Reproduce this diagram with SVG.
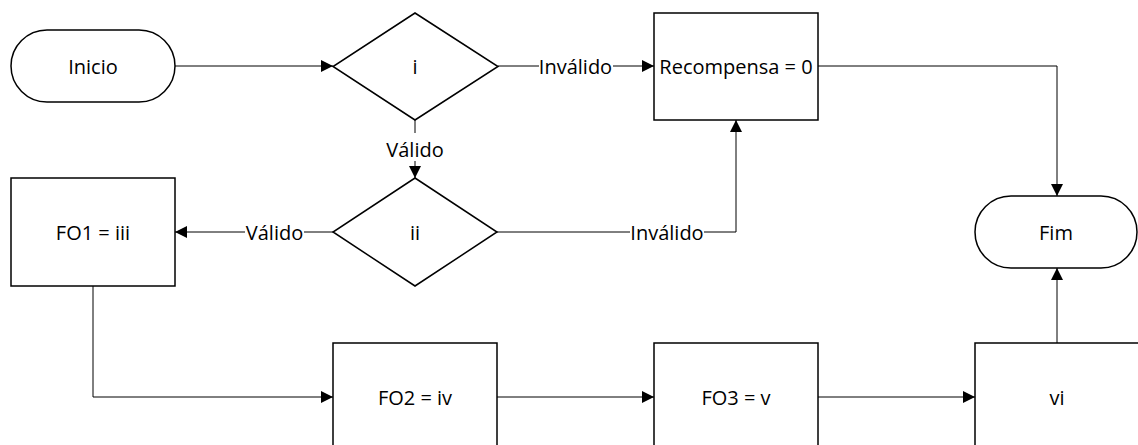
<svg xmlns="http://www.w3.org/2000/svg" width="1138" height="445" viewBox="0 0 1138 445">
  <style>
    .shape { fill: #ffffff; stroke: #000000; stroke-width: 1.5; }
    .conn { fill: none; stroke: #000000; stroke-width: 1; }
    .txt { font-family: "Open Sans", "Noto Sans", sans-serif; font-size: 20px; fill: #000000; text-anchor: middle; }
    .lblbg { fill: #ffffff; stroke: none; }
  </style>
  <defs>
    <marker id="arrow" markerUnits="userSpaceOnUse" markerWidth="12" markerHeight="12" viewBox="0 0 12 12" refX="12" refY="6" orient="auto">
      <path d="M0,0 L12,6 L0,12 Z" fill="#000000"/>
    </marker>
  </defs>
  <rect width="1138" height="445" fill="#ffffff"/>

  <!-- connectors -->
  <g id="connectors">
    <path class="conn" d="M175,66 H333" marker-end="url(#arrow)"/>
    <path class="conn" d="M498,66 H654" marker-end="url(#arrow)"/>
    <path class="conn" d="M415,120 V178" marker-end="url(#arrow)"/>
    <path class="conn" d="M333,232 H175" marker-end="url(#arrow)"/>
    <path class="conn" d="M497,232 H736 V120" marker-end="url(#arrow)"/>
    <path class="conn" d="M818,66 H1057 V196" marker-end="url(#arrow)"/>
    <path class="conn" d="M93,286 V397 H333" marker-end="url(#arrow)"/>
    <path class="conn" d="M497,397 H654" marker-end="url(#arrow)"/>
    <path class="conn" d="M818,397 H975" marker-end="url(#arrow)"/>
    <path class="conn" d="M1057,343 V268" marker-end="url(#arrow)"/>

    <!-- connector labels -->
    <rect class="lblbg" x="539" y="54" width="74" height="26"/>
    <text class="txt" x="575.5" y="73.5">Inválido</text>
    <rect class="lblbg" x="386" y="133" width="58" height="28"/>
    <text class="txt" x="415" y="156.5">Válido</text>
    <rect class="lblbg" x="245" y="220" width="59" height="26"/>
    <text class="txt" x="274.5" y="239.5">Válido</text>
    <rect class="lblbg" x="630" y="220" width="74" height="26"/>
    <text class="txt" x="667" y="239.5">Inválido</text>
  </g>

  <g id="inicio">
    <rect class="shape" x="11" y="30" width="164" height="72" rx="36" ry="36"/>
    <text class="txt" x="93" y="73.5">Inicio</text>
  </g>

  <g id="decisao-i">
    <polygon class="shape" points="415,13 498,66.5 415,120 333,66.5"/>
    <text class="txt" x="415" y="73.5">i</text>
  </g>

  <g id="recompensa">
    <rect class="shape" x="654" y="13" width="164" height="107"/>
    <text class="txt" x="736" y="73.5">Recompensa = 0</text>
  </g>

  <g id="decisao-ii">
    <polygon class="shape" points="415,178 497,232 415,286 333,232"/>
    <text class="txt" x="415" y="239.5">ii</text>
  </g>

  <g id="fo1">
    <rect class="shape" x="11" y="178" width="164" height="108"/>
    <text class="txt" x="93" y="239.5">FO1 = iii</text>
  </g>

  <g id="fim">
    <rect class="shape" x="975" y="196" width="162" height="72" rx="36" ry="36"/>
    <text class="txt" x="1056" y="239.5">Fim</text>
  </g>

  <g id="fo2">
    <rect class="shape" x="333" y="343" width="164" height="108"/>
    <text class="txt" x="415" y="404.5">FO2 = iv</text>
  </g>

  <g id="fo3">
    <rect class="shape" x="654" y="343" width="164" height="108"/>
    <text class="txt" x="736" y="404.5">FO3 = v</text>
  </g>

  <g id="vi">
    <rect class="shape" x="975" y="343" width="164" height="108"/>
    <text class="txt" x="1057" y="404.5">vi</text>
  </g>
</svg>
